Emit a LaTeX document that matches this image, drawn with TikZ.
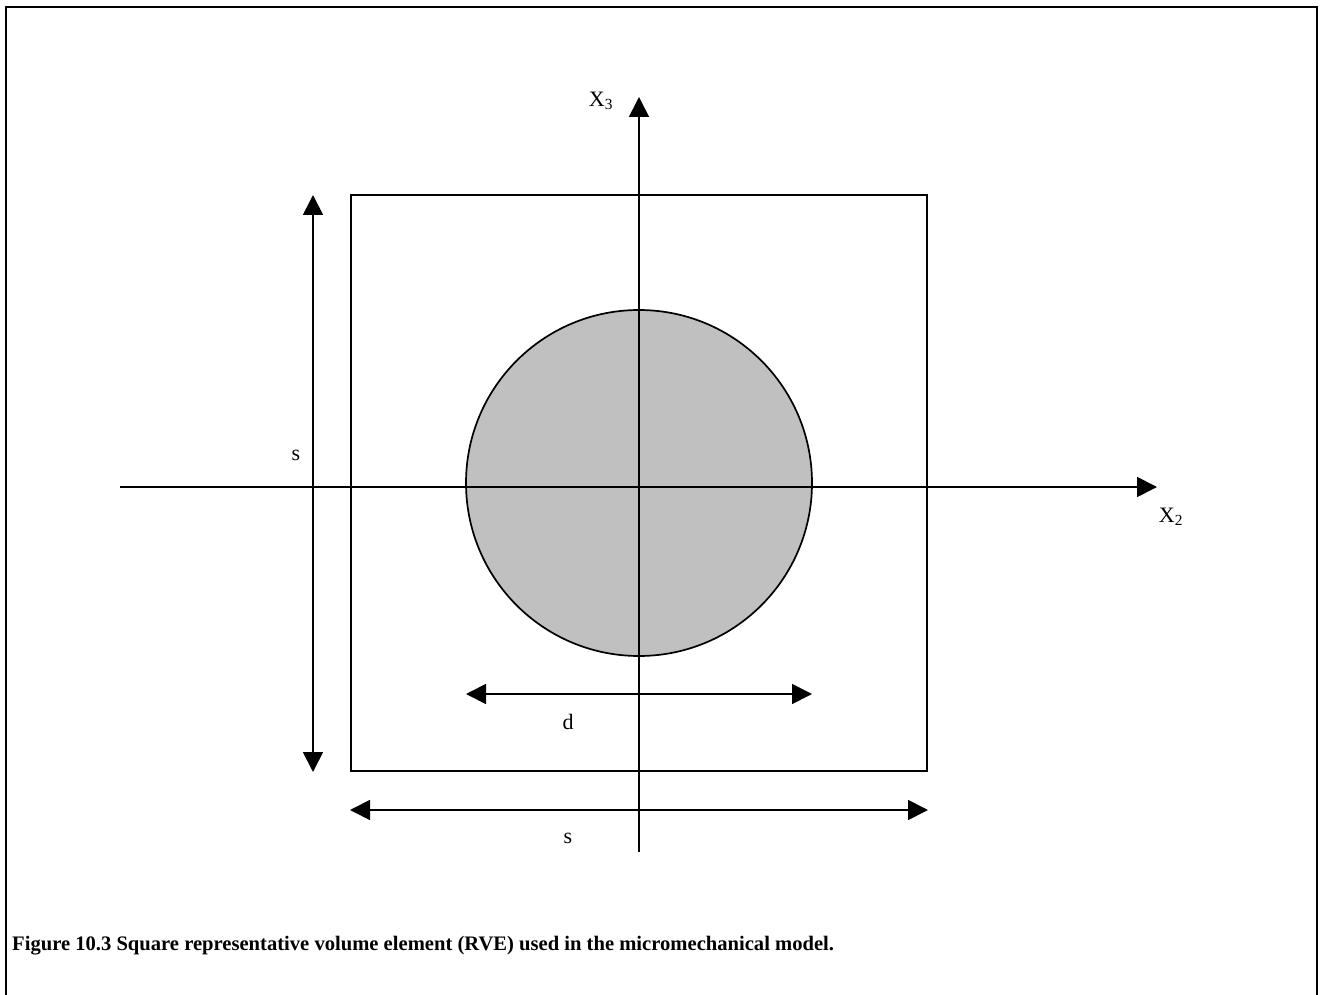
\documentclass[tikz,border=0pt]{standalone}
\usepackage{fontspec}
\setmainfont{Liberation Serif}
\usetikzlibrary{arrows.meta}

\begin{document}
\begin{tikzpicture}[x=1pt, y=-1pt,
    line/.style={line width=1.7pt},
    tip/.style={-{Triangle[length=20pt, width=20pt]}},
    twotip/.style={{Triangle[length=20pt, width=20pt]}-{Triangle[length=20pt, width=20pt]}},
    lbl/.style={font=\fontsize{22}{26}\selectfont, inner sep=0pt}]
    \useasboundingbox (0,0) rectangle (1323,995);
    % --- frame (open at the bottom) ---
    \draw[line width=2.6pt] (6,1000) -- (6,7) -- (1317,7) -- (1317,1000);

    % --- RVE: square cell with fibre ---
    \node[draw, line, minimum width=576pt, minimum height=576pt, inner sep=0pt] (cell) at (639,483) {};
    \node[draw, line, circle, fill={rgb,255:red,192;green,192;blue,192}, minimum size=346pt, inner sep=0pt] (fibre) at (639,483) {};

    % --- axes ---
    \coordinate (x2a) at (120,487);
    \coordinate (x2b) at (1157,487);
    \coordinate (x3a) at (639,852);
    \coordinate (x3b) at (639,97);
    \draw[line, tip] (x2a) -- (x2b);
    \draw[line, tip] (x3a) -- (x3b);
    \node[lbl] (labx2) at (1171,517) {X\textsubscript{2}};
    \node[lbl] (labx3) at (601,101) {X\textsubscript{3}};

    % --- dimensions ---
    \coordinate (sva) at (313,195);
    \coordinate (svb) at (313,772);
    \draw[line, twotip] (sva) -- (svb);
    \node[lbl] (labsv) at (296,455) {s};

    \coordinate (da) at (466,694);
    \coordinate (db) at (812,694);
    \draw[line, twotip] (da) -- (db);
    \node[lbl] (labd) at (568,722) {d};

    \coordinate (sha) at (350,810);
    \coordinate (shb) at (928,810);
    \draw[line, twotip] (sha) -- (shb);
    \node[lbl] (labsh) at (568,838) {s};

    % --- caption ---
    \node[anchor=west, inner sep=0pt, font=\bfseries\fontsize{20.6}{24}\selectfont] (caption) at (12,946)
        {Figure 10.3 Square representative volume element (RVE) used in the micromechanical model.};
\end{tikzpicture}
\end{document}
